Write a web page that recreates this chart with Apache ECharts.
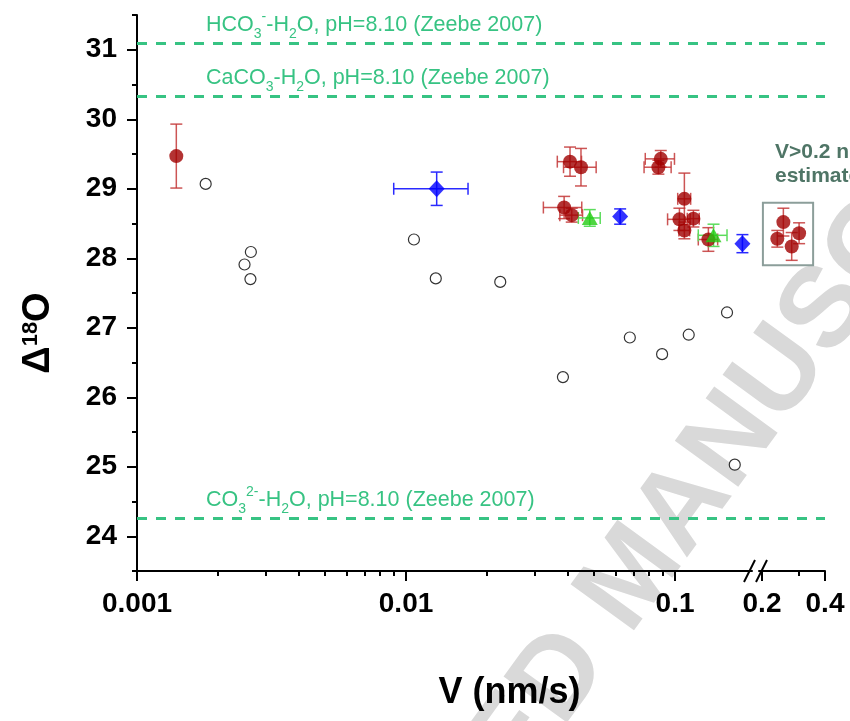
<!DOCTYPE html>
<html>
<head>
<meta charset="utf-8">
<title>Delta18O vs V</title>
<script src="https://cdn.jsdelivr.net/npm/echarts@6.0.0/dist/echarts.min.js"></script>
<style>
  html, body { margin: 0; padding: 0; background: #fff; }
  #chart { width: 850px; height: 721px; }
</style>
</head>
<body>
<div id="chart"></div>
<script>
// open circles (no error bars)
const openV = [0.0018, 0.00265, 0.00251, 0.00264, 0.0107, 0.0129, 0.0224, 0.0383, 0.0679, 0.0895, 0.1124, 0.156, 0.1667];
const openD = [29.07, 28.09, 27.91, 27.70, 28.27, 27.71, 27.66, 26.29, 26.86, 26.62, 26.90, 27.22, 25.03];

// red circles, V < 0.2 nm/s
const redV    = [0.0014, 0.0407, 0.0447, 0.0387, 0.0413, 0.0885, 0.0867, 0.1083, 0.1038, 0.117, 0.1083, 0.133];
const redD    = [29.47, 29.39, 29.31, 28.73, 28.62, 29.43, 29.31, 28.855, 28.56, 28.57, 28.40, 28.27];
const redVErr = [0, 0.0042, 0.0062, 0.0063, 0.004, 0.011, 0.010, 0.006, 0.010, 0.006, 0.005, 0.011];
const redDErr = [0.46, 0.21, 0.27, 0.16, 0.10, 0.12, 0.10, 0.37, 0.16, 0.12, 0.12, 0.17];

// red circles, V > 0.2 nm/s (estimates)
const fastV    = [0.2367, 0.253, 0.2773, 0.3008];
const fastD    = [28.28, 28.52, 28.17, 28.36];
const fastDErr = [0.12, 0.20, 0.20, 0.15];

// blue diamonds
const blueV    = [0.013, 0.0625, 0.178];
const blueD    = [29.00, 28.60, 28.21];
const blueVErr = [0.004, 0, 0];
const blueDErr = [0.24, 0.11, 0.13];

// green triangles
const greenV    = [0.0482, 0.139];
const greenD    = [28.58, 28.33];
const greenVErr = [0.0045, 0.017];
const greenDErr = [0.12, 0.16];

// equilibrium reference lines (Zeebe 2007)
const refD = [31.09, 30.33, 24.26];
const refLabels = [
  'HCO{sub|3}{sup|-}-H{sub|2}O, pH=8.10 (Zeebe 2007)',
  'CaCO{sub|3}-H{sub|2}O, pH=8.10 (Zeebe 2007)',
  'CO{sub|3}{sup|2-}-H{sub|2}O, pH=8.10 (Zeebe 2007)'
];

// axes
const leftRange  = [0.001, 0.1932];
const rightRange = [0.1935, 0.4];
const majorX  = [0.001, 0.01, 0.1];
const minorX  = [0.002, 0.003, 0.004, 0.005, 0.006, 0.007, 0.008, 0.009,
                 0.02, 0.03, 0.04, 0.05, 0.06, 0.07, 0.08, 0.09];
const majorXR = [0.2, 0.4];
const minorXR = [0.3];
const yRange  = [23.5, 31.5];
const majorY  = [24, 25, 26, 27, 28, 29, 30, 31];
const minorY  = [23.5, 24.5, 25.5, 26.5, 27.5, 28.5, 29.5, 30.5, 31.5];

// box around the estimated points
const boxV = [0.202, 0.351];
const boxD = [27.90, 28.80];

const lg = Math.log10;
const FONT = '"Liberation Sans", Arial, sans-serif';
const GREEN = '#37c383';
const RED = '#a00000';

const fmtV = v => String(+Math.pow(10, v).toPrecision(2));

function pts(v, d) { return v.map((x, i) => [lg(x), d[i]]); }
function errData(v, d, ve, de) {
  return v.map((x, i) => {
    const e = ve ? ve[i] : 0;
    return [lg(x), d[i], lg(x - e), lg(x + e), d[i] - de[i], d[i] + de[i]];
  });
}

function errSeries(data, color, xi, yi) {
  return {
    type: 'custom', xAxisIndex: xi, yAxisIndex: yi, data: data, silent: true, z: 3,
    encode: { x: 0, y: 1 },
    renderItem: function (params, api) {
      const x = api.value(0);
      const st = { stroke: color, lineWidth: 1.5 };
      const cap = 6;
      const ch = [];
      if (api.value(5) > api.value(4)) {
        const a = api.coord([x, api.value(4)]), b = api.coord([x, api.value(5)]);
        ch.push({ type: 'line', shape: { x1: a[0], y1: a[1], x2: b[0], y2: b[1] }, style: st });
        ch.push({ type: 'line', shape: { x1: a[0] - cap, y1: a[1], x2: a[0] + cap, y2: a[1] }, style: st });
        ch.push({ type: 'line', shape: { x1: b[0] - cap, y1: b[1], x2: b[0] + cap, y2: b[1] }, style: st });
      }
      if (api.value(3) > api.value(2)) {
        const y = api.value(1);
        const a = api.coord([api.value(2), y]), b = api.coord([api.value(3), y]);
        ch.push({ type: 'line', shape: { x1: a[0], y1: a[1], x2: b[0], y2: b[1] }, style: st });
        ch.push({ type: 'line', shape: { x1: a[0], y1: a[1] - cap, x2: a[0], y2: a[1] + cap }, style: st });
        ch.push({ type: 'line', shape: { x1: b[0], y1: b[1] - cap, x2: b[0], y2: b[1] + cap }, style: st });
      }
      return { type: 'group', children: ch };
    }
  };
}

const axisLine = { show: true, onZero: false, lineStyle: { color: '#000', width: 2 } };
const tickLabel = { color: '#000', fontSize: 28, fontWeight: 'bold', fontFamily: FONT };

const refLineStyle = { color: GREEN, type: [10, 9], width: 3 };
const refLabelStyle = {
  show: true, position: 'insideStartTop', distance: [69, 2],
  color: GREEN, fontSize: 21.5, fontFamily: FONT,
  rich: {
    sub: { fontSize: 14, color: GREEN, fontFamily: FONT, padding: [18, 0, 0, 0] },
    sup: { fontSize: 14, color: GREEN, fontFamily: FONT, padding: [0, 0, 16, 0] }
  }
};

const chart = echarts.init(document.getElementById('chart'));

chart.setOption({
  animation: false,
  backgroundColor: '#fff',
  grid: [
    { left: 137, right: 98, top: 15, bottom: 150 },
    { left: 759, right: 25, top: 15, bottom: 150 }
  ],
  xAxis: [
    {
      type: 'value', gridIndex: 0, position: 'bottom', min: lg(leftRange[0]), max: lg(leftRange[1]),
      axisLine: axisLine, splitLine: { show: false },
      axisTick: { show: true, inside: false, length: 10, lineStyle: { width: 2, color: '#000' }, customValues: majorX.map(lg) },
      axisLabel: Object.assign({ margin: 19, customValues: majorX.map(lg), formatter: fmtV }, tickLabel),
      name: 'V (nm/s)', nameLocation: 'middle', nameGap: 104,
      nameTextStyle: { color: '#000', fontSize: 36, fontWeight: 'bold', fontFamily: FONT, padding: [0, 0, 0, 130] }
    },
    {
      type: 'value', gridIndex: 0, position: 'bottom', min: lg(leftRange[0]), max: lg(leftRange[1]),
      axisLine: { show: false }, splitLine: { show: false }, axisLabel: { show: false },
      axisTick: { show: true, length: 5, lineStyle: { width: 2, color: '#000' }, customValues: minorX.map(lg) }
    },
    {
      type: 'value', gridIndex: 1, position: 'bottom', min: lg(rightRange[0]), max: lg(rightRange[1]),
      axisLine: axisLine, splitLine: { show: false },
      axisTick: { show: true, length: 10, lineStyle: { width: 2, color: '#000' }, customValues: majorXR.map(lg) },
      axisLabel: Object.assign({ margin: 19, customValues: majorXR.map(lg), formatter: fmtV }, tickLabel)
    },
    {
      type: 'value', gridIndex: 1, position: 'bottom', min: lg(rightRange[0]), max: lg(rightRange[1]),
      axisLine: { show: false }, splitLine: { show: false }, axisLabel: { show: false },
      axisTick: { show: true, length: 5, lineStyle: { width: 2, color: '#000' }, customValues: minorXR.map(lg) }
    }
  ],
  yAxis: [
    {
      type: 'value', gridIndex: 0, position: 'left', min: yRange[0], max: yRange[1],
      axisLine: axisLine, splitLine: { show: false },
      axisTick: { show: true, length: 10, lineStyle: { width: 2, color: '#000' }, customValues: majorY },
      axisLabel: Object.assign({ margin: 20, customValues: majorY }, tickLabel),
      name: '{d|Δ}{sup|18}{d|O}', nameLocation: 'middle', nameGap: 79,
      nameTextStyle: {
        color: '#000', fontFamily: FONT, padding: [0, 80, 0, 0],
        rich: {
          d: { fontSize: 38, fontWeight: 'bold', fontFamily: FONT, color: '#000' },
          sup: { fontSize: 22, fontWeight: 'bold', fontFamily: FONT, color: '#000', padding: [0, 0, 16, 0] }
        }
      }
    },
    {
      type: 'value', gridIndex: 0, position: 'left', min: yRange[0], max: yRange[1],
      axisLine: { show: false }, splitLine: { show: false }, axisLabel: { show: false },
      axisTick: { show: true, length: 5, lineStyle: { width: 2, color: '#000' }, customValues: minorY }
    },
    {
      type: 'value', gridIndex: 1, min: yRange[0], max: yRange[1], show: false
    }
  ],
  series: [
    errSeries(errData(redV, redD, redVErr, redDErr), 'rgba(195,55,55,0.85)', 0, 0),
    errSeries(errData(blueV, blueD, blueVErr, blueDErr), '#2a2aff', 0, 0),
    errSeries(errData(greenV, greenD, greenVErr, greenDErr), '#5cdc5c', 0, 0),
    errSeries(errData(fastV, fastD, null, fastDErr), 'rgba(195,55,55,0.85)', 2, 2),
    {
      name: 'open', type: 'scatter', xAxisIndex: 0, yAxisIndex: 0, z: 4,
      data: pts(openV, openD), symbol: 'circle', symbolSize: 11,
      itemStyle: { color: '#fff', borderColor: '#000', borderWidth: 1.2 },
      markLine: {
        silent: true, symbol: 'none', lineStyle: refLineStyle, label: refLabelStyle,
        data: refD.map((y, i) => ({ yAxis: y, label: Object.assign({}, refLabelStyle, { formatter: refLabels[i] }) }))
      }
    },
    {
      name: 'red', type: 'scatter', xAxisIndex: 0, yAxisIndex: 0, z: 4,
      data: pts(redV, redD), symbol: 'circle', symbolSize: 14,
      itemStyle: { color: RED }
    },
    {
      name: 'blue', type: 'scatter', xAxisIndex: 0, yAxisIndex: 0, z: 4,
      data: pts(blueV, blueD), symbol: 'diamond', symbolSize: [16, 17],
      itemStyle: { color: '#0000ff' }
    },
    {
      name: 'green', type: 'scatter', xAxisIndex: 0, yAxisIndex: 0, z: 4,
      data: pts(greenV, greenD), symbol: 'triangle', symbolSize: [16, 14],
      itemStyle: { color: '#22cc11' }
    },
    {
      name: 'fast', type: 'scatter', xAxisIndex: 2, yAxisIndex: 2, z: 4,
      data: pts(fastV, fastD), symbol: 'circle', symbolSize: 14,
      itemStyle: { color: RED },
      markLine: {
        silent: true, symbol: 'none', lineStyle: refLineStyle, label: { show: false },
        data: refD.map(y => ({ yAxis: y }))
      },
      markArea: {
        silent: true,
        itemStyle: { color: 'rgba(0,0,0,0)', borderColor: '#8c9e9a', borderWidth: 2 },
        data: [[{ xAxis: lg(boxV[0]), yAxis: boxD[1] }, { xAxis: lg(boxV[1]), yAxis: boxD[0] }]]
      }
    }
  ],
  graphic: [
    {
      type: 'text', x: 604, y: 618, rotation: 54 * Math.PI / 180, z: -10, silent: true,
      style: { text: 'ACCEPTED ', fontSize: 114, fontWeight: 'bold', fontFamily: FONT, fill: '#d9d9d9', align: 'right', verticalAlign: 'middle' }
    },
    {
      type: 'text', x: 604, y: 618, rotation: 54 * Math.PI / 180, z: -10, silent: true,
      style: { text: 'MANUSCRIPT', fontSize: 114, fontWeight: 'bold', fontFamily: FONT, fill: '#d9d9d9', align: 'left', verticalAlign: 'middle' }
    },
    {
      type: 'text', x: 775, y: 140, z: 50, silent: true,
      style: { text: 'V>0.2 nm/s\nestimates', fontSize: 21, fontWeight: 'bold', fontFamily: FONT, fill: '#4f7566', lineHeight: 24, align: 'left', verticalAlign: 'top' }
    },
    {
      type: 'line', z: 50, silent: true,
      shape: { x1: 744, y1: 582, x2: 755, y2: 560 }, style: { stroke: '#000', lineWidth: 2 }
    },
    {
      type: 'line', z: 50, silent: true,
      shape: { x1: 756, y1: 582, x2: 767, y2: 560 }, style: { stroke: '#000', lineWidth: 2 }
    }
  ]
});
</script>
</body>
</html>
